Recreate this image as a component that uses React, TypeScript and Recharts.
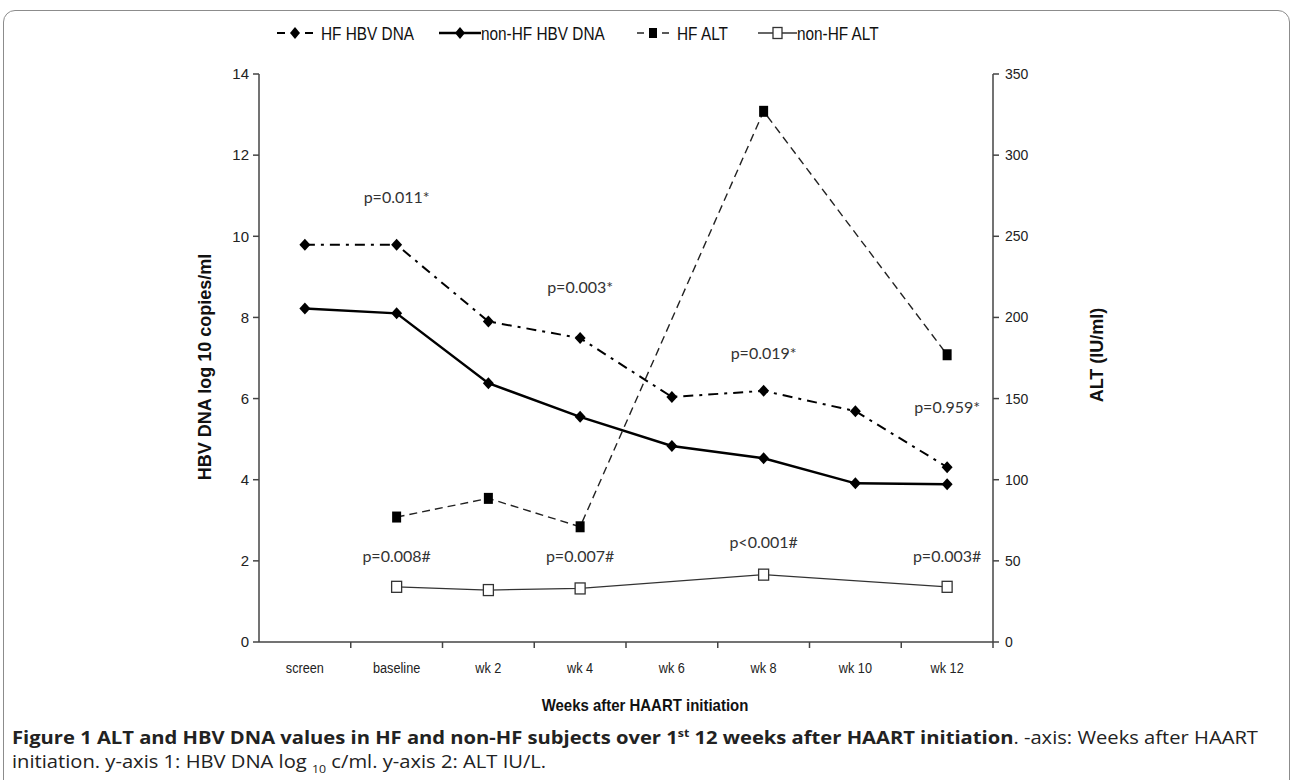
import { LineChart, Line, XAxis, YAxis, ReferenceDot } from "recharts";

const categories = ["screen", "baseline", "wk 2", "wk 4", "wk 6", "wk 8", "wk 10", "wk 12"];
const hfHbvDna = [9.79, 9.79, 7.9, 7.49, 6.04, 6.19, 5.69, 4.31];
const nonHfHbvDna = [8.22, 8.1, 6.38, 5.55, 4.83, 4.53, 3.91, 3.89];
const hfAlt = [null, 77, 88.5, 71, null, 327, null, 177];
const nonHfAlt = [null, 34, 32, 33, null, 41.5, null, 34];

const leftTicks = [0, 2, 4, 6, 8, 10, 12, 14];
const rightTicks = [0, 50, 100, 150, 200, 250, 300, 350];

// p-value notes, placed on the left (HBV DNA) scale
const pNotes = [
  { cat: "baseline", y: 10.97, text: "p=0.011*" },
  { cat: "wk 4", y: 8.75, text: "p=0.003*" },
  { cat: "wk 8", y: 7.12, text: "p=0.019*" },
  { cat: "wk 12", y: 5.79, text: "p=0.959*" },
  { cat: "baseline", y: 2.12, text: "p=0.008#" },
  { cat: "wk 4", y: 2.12, text: "p=0.007#" },
  { cat: "wk 8", y: 2.46, text: "p<0.001#" },
  { cat: "wk 12", y: 2.12, text: "p=0.003#" },
];

const data = categories.map((cat, i) => ({
  cat,
  hfDna: hfHbvDna[i],
  nonHfDna: nonHfHbvDna[i],
  hfAlt: hfAlt[i],
  nonHfAlt: nonHfAlt[i],
}));

const W = 1292;
const H = 720;
const PLOT_LEFT = 259;
const PLOT_RIGHT = 993;
const PLOT_BOTTOM = 642;
const BAND = (PLOT_RIGHT - PLOT_LEFT) / categories.length;

const ARIAL = "'Liberation Sans', Arial, sans-serif";
const AXIS = "#444";

function Diamond(props: any) {
  const { cx, cy, index } = props;
  if (cx == null || cy == null) return <g key={index} />;
  return (
    <path
      key={index}
      d={`M${cx},${cy - 6} L${cx + 5.5},${cy} L${cx},${cy + 6} L${cx - 5.5},${cy} Z`}
      fill="#000"
    />
  );
}

function FilledSquare(props: any) {
  const { cx, cy, index } = props;
  if (cx == null || cy == null) return <g key={index} />;
  return <rect key={index} x={cx - 4.5} y={cy - 5.5} width={9} height={11} fill="#000" />;
}

function OpenSquare(props: any) {
  const { cx, cy, index } = props;
  if (cx == null || cy == null) return <g key={index} />;
  return (
    <rect
      key={index}
      x={cx - 5}
      y={cy - 5.5}
      width={10}
      height={11}
      fill="#fff"
      stroke="#333"
      strokeWidth={1.3}
    />
  );
}

function XTick(props: any) {
  const { x, payload } = props;
  return (
    <g>
      <line
        x1={x + BAND / 2}
        x2={x + BAND / 2}
        y1={PLOT_BOTTOM}
        y2={PLOT_BOTTOM + 6}
        stroke={AXIS}
        strokeWidth={1.5}
      />
      <text
        transform={`translate(${x},${PLOT_BOTTOM + 31}) scale(0.82,1)`}
        textAnchor="middle"
        fontFamily={ARIAL}
        fontSize={15.5}
        fill="#222"
      >
        {payload.value}
      </text>
    </g>
  );
}

function Narrow({
  left,
  top,
  size,
  children,
}: {
  left: number;
  top: number;
  size: number;
  children: any;
}) {
  return (
    <div
      style={{
        position: "absolute",
        left,
        top,
        whiteSpace: "nowrap",
        fontFamily: ARIAL,
        fontSize: size,
        lineHeight: 1,
        color: "#111",
        transform: "scaleX(0.83)",
        transformOrigin: "left center",
      }}
    >
      {children}
    </div>
  );
}

function LegendSymbol({ left, kind }: { left: number; kind: string }) {
  let sym = null;
  if (kind === "dashdot")
    sym = (
      <svg width={38} height={14}>
        <line x1={1} y1={7} x2={9} y2={7} stroke="#000" strokeWidth={2} />
        <path d="M19,1 L24,7 L19,13 L14,7 Z" fill="#000" />
        <line x1={29} y1={7} x2={37} y2={7} stroke="#000" strokeWidth={2} />
      </svg>
    );
  if (kind === "solid")
    sym = (
      <svg width={42} height={14}>
        <line x1={0} y1={7} x2={42} y2={7} stroke="#000" strokeWidth={2.5} />
        <path d="M21,1 L26,7 L21,13 L16,7 Z" fill="#000" />
      </svg>
    );
  if (kind === "dash")
    sym = (
      <svg width={34} height={14}>
        <line x1={1} y1={7} x2={8} y2={7} stroke="#222" strokeWidth={1.5} />
        <rect x={13} y={2} width={8} height={10} fill="#000" />
        <line x1={26} y1={7} x2={33} y2={7} stroke="#222" strokeWidth={1.5} />
      </svg>
    );
  if (kind === "open")
    sym = (
      <svg width={39} height={14}>
        <line x1={0} y1={7} x2={39} y2={7} stroke="#333" strokeWidth={1.3} />
        <rect x={15} y={1.5} width={9} height={11} fill="#fff" stroke="#333" strokeWidth={1.3} />
      </svg>
    );
  return <div style={{ position: "absolute", left, top: 26, lineHeight: 0 }}>{sym}</div>;
}

const captionLine = {
  position: "absolute" as const,
  left: 12,
  whiteSpace: "nowrap" as const,
  fontFamily: "'Open Sans', sans-serif",
  fontSize: 18,
  lineHeight: 1,
  color: "#222",
  transform: "scaleX(1.12)",
  transformOrigin: "left top",
};

export default function App() {
  return (
    <div
      style={{
        position: "relative",
        width: 1292,
        height: 780,
        overflow: "hidden",
        background: "#fff",
      }}
    >
      <style>{`body{margin:0}`}</style>
      <div
        style={{
          position: "absolute",
          left: 3,
          top: 10,
          width: 1285,
          height: 820,
          border: "1.5px solid #8c8c8c",
          borderRadius: "12px 12px 0 0",
        }}
      />
      <div style={{ position: "absolute", left: 0, top: 0 }}>
        <LineChart
          width={W}
          height={H}
          data={data}
          margin={{ top: 74, right: W - PLOT_RIGHT - 60, bottom: 48, left: PLOT_LEFT - 60 }}
        >
          <XAxis
            dataKey="cat"
            scale="band"
            height={30}
            interval={0}
            axisLine={{ stroke: AXIS, strokeWidth: 1.5 }}
            tickLine={false}
            tick={<XTick />}
          />
          <YAxis
            yAxisId="left"
            width={60}
            domain={[0, 14]}
            ticks={leftTicks}
            interval={0}
            tickSize={6}
            tickMargin={4}
            axisLine={{ stroke: AXIS, strokeWidth: 1.5 }}
            tickLine={{ stroke: AXIS, strokeWidth: 1.5 }}
            tick={{ fill: "#222", fontSize: 15, fontFamily: ARIAL }}
          />
          <YAxis
            yAxisId="right"
            orientation="right"
            width={60}
            domain={[0, 350]}
            ticks={rightTicks}
            interval={0}
            tickSize={6}
            tickMargin={6}
            axisLine={{ stroke: AXIS, strokeWidth: 1.5 }}
            tickLine={{ stroke: AXIS, strokeWidth: 1.5 }}
            tick={{ fill: "#222", fontSize: 14, fontFamily: ARIAL }}
          />
          <Line
            yAxisId="left"
            dataKey="hfDna"
            type="linear"
            stroke="#000"
            strokeWidth={2}
            strokeDasharray="10 6 3 6"
            dot={Diamond}
            activeDot={false}
            isAnimationActive={false}
          />
          <Line
            yAxisId="left"
            dataKey="nonHfDna"
            type="linear"
            stroke="#000"
            strokeWidth={2.5}
            dot={Diamond}
            activeDot={false}
            isAnimationActive={false}
          />
          <Line
            yAxisId="right"
            dataKey="hfAlt"
            type="linear"
            stroke="#222"
            strokeWidth={1.4}
            strokeDasharray="8 5"
            connectNulls
            dot={FilledSquare}
            activeDot={false}
            isAnimationActive={false}
          />
          <Line
            yAxisId="right"
            dataKey="nonHfAlt"
            type="linear"
            stroke="#333"
            strokeWidth={1.3}
            connectNulls
            dot={OpenSquare}
            activeDot={false}
            isAnimationActive={false}
          />
          {pNotes.map((n, i) => (
            <ReferenceDot
              key={i}
              yAxisId="left"
              x={n.cat}
              y={n.y}
              r={0}
              ifOverflow="visible"
              label={{
                value: n.text,
                position: "center",
                fill: "#333",
                fontSize: 16,
                fontFamily: "Lato, sans-serif",
              }}
            />
          ))}
        </LineChart>
      </div>

      <LegendSymbol left={276} kind="dashdot" />
      <Narrow left={321} top={25} size={18.5}>HF HBV DNA</Narrow>
      <LegendSymbol left={439} kind="solid" />
      <Narrow left={481} top={25} size={18.5}>non-HF HBV DNA</Narrow>
      <LegendSymbol left={636} kind="dash" />
      <Narrow left={677} top={25} size={18.5}>HF ALT</Narrow>
      <LegendSymbol left={758} kind="open" />
      <Narrow left={797} top={25} size={18.5}>non-HF ALT</Narrow>

      <div
        style={{
          position: "absolute",
          left: 205,
          top: 367,
          transform: "translate(-50%, -50%) rotate(-90deg)",
          whiteSpace: "nowrap",
          fontFamily: ARIAL,
          fontWeight: "bold",
          fontSize: 18,
          color: "#111",
        }}
      >
        HBV DNA log 10 copies/ml
      </div>
      <div
        style={{
          position: "absolute",
          left: 1097,
          top: 355,
          transform: "translate(-50%, -50%) rotate(-90deg)",
          whiteSpace: "nowrap",
          fontFamily: ARIAL,
          fontWeight: "bold",
          fontSize: 18,
          color: "#111",
        }}
      >
        ALT (IU/ml)
      </div>
      <div
        style={{
          position: "absolute",
          left: 645,
          top: 706,
          transform: "translate(-50%, -50%) scaleX(0.88)",
          whiteSpace: "nowrap",
          fontFamily: ARIAL,
          fontWeight: "bold",
          fontSize: 17,
          color: "#111",
        }}
      >
        Weeks after HAART initiation
      </div>

      <div style={{ ...captionLine, top: 728 }}>
        <b>
          Figure 1 ALT and HBV DNA values in HF and non-HF subjects over 1
          <sup style={{ fontSize: 11, lineHeight: 0 }}>st</sup> 12 weeks after HAART initiation
        </b>
        . -axis: Weeks after HAART
      </div>
      <div style={{ ...captionLine, top: 752 }}>
        initiation. y-axis 1: HBV DNA log <sub style={{ fontSize: 11, lineHeight: 0 }}>10</sub> c/ml. y-axis 2: ALT IU/L.
      </div>
    </div>
  );
}
